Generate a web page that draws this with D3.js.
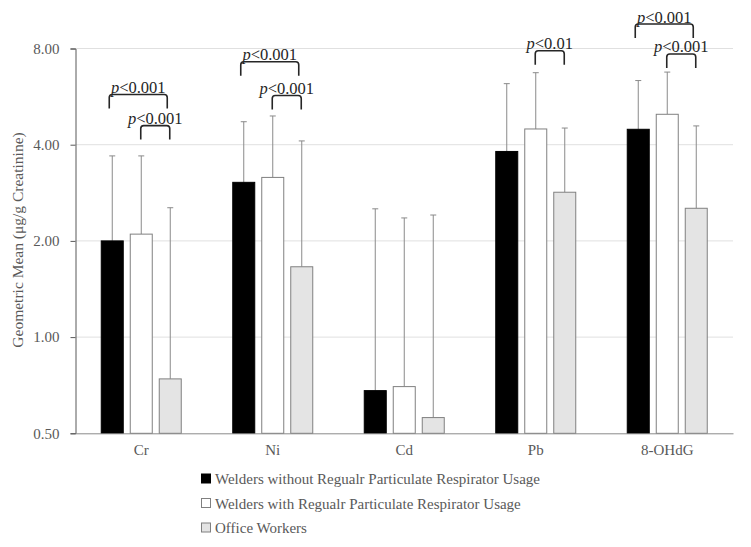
<!DOCTYPE html>
<html>
<head>
<meta charset="utf-8">
<script src="https://cdn.jsdelivr.net/npm/d3@7"></script>
<style>
  body { margin: 0; background: #fff; }
  svg { font-family: "Liberation Serif", "Times New Roman", serif; }
</style>
</head>
<body>
<svg id="chart" width="751" height="547"></svg>
<script>
// ==== Data ====
const categories = ['Cr', 'Ni', 'Cd', 'Pb', '8-OHdG'];
const seriesNames = [
  'Welders without Regualr Particulate Respirator Usage',
  'Welders with Regualr Particulate Respirator Usage',
  'Office Workers'
];
const weldersNoResp      = [2.00, 3.05, 0.68, 3.81, 4.47];
const weldersNoRespUpper = [3.69, 4.72, 2.52, 6.21, 6.35];
const weldersResp        = [2.10, 3.16, 0.70, 4.48, 4.98];
const weldersRespUpper   = [3.69, 4.92, 2.36, 6.72, 6.75];
const officeWorkers      = [0.74, 1.66, 0.56, 2.84, 2.53];
const officeWorkersUpper = [2.54, 4.11, 2.41, 4.51, 4.58];
const yTicks = [0.5, 1, 2, 4, 8];

// significance brackets: category, from series, to series, height (value), label
const sigBrackets = [
  { cat: 'Cr',     from: 0, to: 2, level: 5.74, label: '<0.001' },
  { cat: 'Cr',     from: 1, to: 2, level: 4.59, label: '<0.001' },
  { cat: 'Ni',     from: 0, to: 2, level: 7.27, label: '<0.001' },
  { cat: 'Ni',     from: 1, to: 2, level: 5.70, label: '<0.001' },
  { cat: 'Pb',     from: 1, to: 2, level: 7.87, label: '<0.01' },
  { cat: '8-OHdG', from: 0, to: 2, level: 9.54, label: '<0.001' },
  { cat: '8-OHdG', from: 1, to: 2, level: 7.69, label: '<0.001' }
];

const values = [weldersNoResp, weldersResp, officeWorkers];
const uppers = [weldersNoRespUpper, weldersRespUpper, officeWorkersUpper];
const fills  = ['#000000', '#ffffff', '#e4e4e4'];
const strokes = ['#000000', '#808080', '#808080'];

const svg = d3.select('#chart');
const mLeft = 75.5, mRight = 733, mTop = 48.5, mBottom = 433.3;

const x = d3.scaleBand().domain(categories).range([mLeft, mRight]);
const xi = d3.scaleBand().domain(d3.range(3)).range([0, 81]).paddingInner(6 / 29);
const y = d3.scaleLog().base(2).domain([0.5, 8]).range([mBottom, mTop]);

const barX = (c, s) => x(c) + x.bandwidth() / 2 - 40.5 + xi(s);
const barCx = (c, s) => barX(c, s) + xi.bandwidth() / 2;

// gridlines
svg.append('g')
  .selectAll('line')
  .data(yTicks.slice(1))
  .join('line')
    .attr('x1', mLeft).attr('x2', mRight)
    .attr('y1', d => y(d)).attr('y2', d => y(d))
    .attr('stroke', '#e0e0e0').attr('stroke-width', 1);

// bars + error bars
const rows = [];
values.forEach((arr, s) => arr.forEach((v, i) => rows.push({ s, c: categories[i], v, up: uppers[s][i] })));

svg.append('g')
  .selectAll('line')
  .data(rows)
  .join('line')
    .attr('x1', d => barCx(d.c, d.s)).attr('x2', d => barCx(d.c, d.s))
    .attr('y1', d => y(d.v)).attr('y2', d => y(d.up))
    .attr('stroke', '#8a8a8a').attr('stroke-width', 1);

svg.append('g')
  .selectAll('line')
  .data(rows)
  .join('line')
    .attr('x1', d => barCx(d.c, d.s) - 3).attr('x2', d => barCx(d.c, d.s) + 3)
    .attr('y1', d => y(d.up)).attr('y2', d => y(d.up))
    .attr('stroke', '#8a8a8a').attr('stroke-width', 1);

svg.append('g')
  .selectAll('rect')
  .data(rows)
  .join('rect')
    .attr('x', d => barX(d.c, d.s) + 0.5)
    .attr('y', d => y(d.v))
    .attr('width', xi.bandwidth() - 1)
    .attr('height', d => mBottom - y(d.v))
    .attr('fill', d => fills[d.s])
    .attr('stroke', d => strokes[d.s])
    .attr('stroke-width', 1);

// axes
const yAxis = svg.append('g')
  .attr('transform', `translate(${mLeft},0)`)
  .call(d3.axisLeft(y).tickValues(yTicks).tickFormat(d3.format('.2f')).tickSize(5).tickPadding(11));
yAxis.select('.domain').attr('stroke', '#595959');
yAxis.selectAll('.tick line').attr('stroke', '#595959');
yAxis.selectAll('text')
  .attr('fill', '#595959')
  .style('font-size', '15px')
  .style('font-family', '"Liberation Serif", serif');

const xAxis = svg.append('g')
  .attr('transform', `translate(0,${mBottom})`)
  .call(d3.axisBottom(x).tickSize(0).tickPadding(11.5));
xAxis.select('.domain').attr('stroke', '#8a8a8a');
xAxis.selectAll('text')
  .attr('fill', '#595959')
  .style('font-size', '15px')
  .style('font-family', '"Liberation Serif", serif');

svg.append('text')
  .attr('transform', 'translate(23,240) rotate(-90)')
  .attr('text-anchor', 'middle')
  .attr('fill', '#595959')
  .style('font-size', '15.5px')
  .text('Geometric Mean (μg/g Creatinine)');

// significance brackets
const br = svg.append('g');
sigBrackets.forEach(b => {
  const off = b.from === 0 ? -3 : -0.5;
  const x1 = barCx(b.cat, b.from) + off, x2 = barCx(b.cat, b.to) + off;
  const yt = y(b.level), yb = yt + 14, r = 3;
  br.append('path')
    .attr('d', `M${x1},${yb} V${yt + r} Q${x1},${yt} ${x1 + r},${yt} H${x2 - r} Q${x2},${yt} ${x2},${yt + r} V${yb}`)
    .attr('fill', 'none').attr('stroke', '#262626').attr('stroke-width', 1.6);
  const t = br.append('text')
    .attr('x', (x1 + x2) / 2).attr('y', yt - 1.5)
    .attr('text-anchor', 'middle')
    .attr('fill', '#262626')
    .style('font-size', '16.5px');
  t.append('tspan').style('font-style', 'italic').text('p');
  t.append('tspan').text(b.label);
});

// legend
const lg = svg.append('g').attr('transform', 'translate(201,0)');
const legY = [479, 503.5, 528];
seriesNames.forEach((name, s) => {
  lg.append('rect')
    .attr('x', 0.5).attr('y', legY[s] - 5)
    .attr('width', 9).attr('height', 9)
    .attr('fill', fills[s]).attr('stroke', strokes[s]);
  lg.append('text')
    .attr('x', 14).attr('y', legY[s] + 5)
    .attr('fill', '#595959')
    .style('font-size', '15px')
    .text(name);
});
</script>
</body>
</html>
